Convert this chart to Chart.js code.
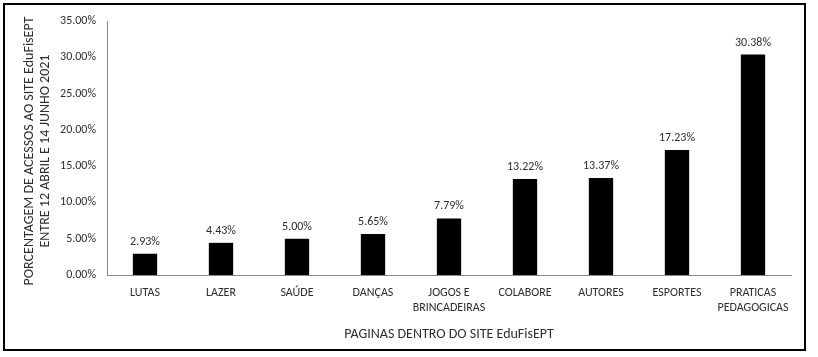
<!DOCTYPE html>
<html><head><meta charset="utf-8">
<script src="https://cdn.jsdelivr.net/npm/chart.js@4/dist/chart.umd.min.js"></script>
<style>html,body{margin:0;padding:0;background:#fff}#wrap{width:818px;height:357px;position:relative}</style>
</head><body><div id="wrap"><canvas id="c" width="818" height="357"></canvas></div>
<script>
const categories = [["LUTAS"],["LAZER"],["SAÚDE"],["DANÇAS"],["JOGOS E","BRINCADEIRAS"],["COLABORE"],["AUTORES"],["ESPORTES"],["PRATICAS","PEDAGOGICAS"]];
const values = [2.93, 4.43, 5.00, 5.65, 7.79, 13.22, 13.37, 17.23, 30.38];
const yTitle = ["PORCENTAGEM DE ACESSOS AO SITE EduFisEPT","ENTRE 12 ABRIL E 14 JUNHO 2021"];
const xTitle = "PAGINAS DENTRO DO SITE EduFisEPT";
const TXT = "#2e2e2e";

function hasFont(name){
  const c=document.createElement('canvas').getContext('2d');
  const s='PAGINAS DENTRO 35.00% abcdefghij';
  c.font='20px monospace'; const a=c.measureText(s).width;
  c.font=`20px "${name}", monospace`; const b=c.measureText(s).width;
  return Math.abs(a-b)>0.5;
}
const CARLITO = hasFont('Carlito');
const FONT = CARLITO ? 'Carlito' : 'Lato';
const SZ = CARLITO ? {num:12,cat:12,xt:14,yt:14} : {num:11,cat:10.5,xt:12,yt:12};

const frame = {
  id:'frame',
  beforeDraw(chart){
    const c = chart.ctx;
    c.save(); c.fillStyle='#fff'; c.fillRect(0,0,chart.width,chart.height); c.restore();
  },
  afterDraw(chart){
    const c = chart.ctx;
    c.save();
    c.strokeStyle='#000'; c.lineWidth=2;
    c.strokeRect(4,4,801,346);
    c.fillStyle=TXT;
    c.font=`${SZ.yt}px ${FONT}`;
    c.textAlign='center'; c.textBaseline='middle';
    const cy = (chart.chartArea.top + chart.chartArea.bottom)/2 + 3;
    [29,45].forEach((x,i)=>{
      c.save(); c.translate(x,cy); c.rotate(-Math.PI/2); c.fillText(yTitle[i],0,0); c.restore();
    });
    c.restore();
  }
};
const barLabels = {
  id:'barLabels',
  afterDatasetsDraw(chart){
    const c = chart.ctx;
    const meta = chart.getDatasetMeta(0);
    c.save();
    c.font = `${SZ.num}px ${FONT}`;
    c.fillStyle = TXT;
    c.textAlign='center'; c.textBaseline='middle';
    meta.data.forEach((b,i)=>{
      c.fillText(values[i].toFixed(2)+'%', b.x, b.y-12);
    });
    c.restore();
  }
};

new Chart(document.getElementById('c'),{
  type:'bar',
  data:{labels:categories,datasets:[{data:values,backgroundColor:'#000',borderWidth:0,barPercentage:0.32,categoryPercentage:1}]},
  options:{
    responsive:false,animation:false,
    layout:{padding:{left:8,right:27,top:21,bottom:14}},
    plugins:{legend:{display:false},tooltip:{enabled:false}},
    scales:{
      x:{
        grid:{display:false,drawTicks:false},
        border:{color:'#8a8a8a',width:1},
        ticks:{color:TXT,font:{family:FONT,size:SZ.cat,lineHeight:1.25},padding:10,maxRotation:0,autoSkip:false},
        title:{display:true,text:xTitle,color:TXT,font:{family:FONT,size:SZ.xt},padding:{top:8,bottom:0}},
        afterFit(s){s.height = 357-275-14;}
      },
      y:{
        min:0,max:35,
        grid:{display:false,drawTicks:false},
        border:{color:'#8a8a8a',width:1},
        ticks:{stepSize:5,color:TXT,font:{family:FONT,size:SZ.num},padding:11,callback:v=>v.toFixed(2)+'%'},
        afterFit(s){s.width = 107-8;}
      }
    }
  },
  plugins:[frame,barLabels]
});
</script></body></html>
